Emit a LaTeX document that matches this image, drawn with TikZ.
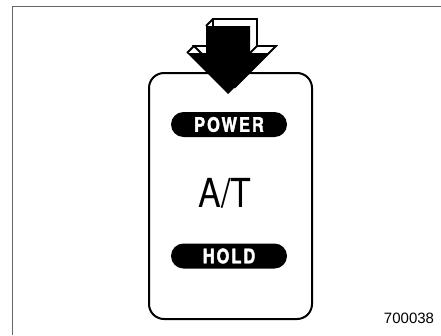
\documentclass[tikz,border=0pt]{standalone}
\usepackage{fontspec}
\setmainfont{TeX Gyre Heros}
\newfontfamily\pillfont[FakeStretch=0.82,LetterSpace=10,FakeBold=2]{TeX Gyre Heros}
\newfontfamily\atfont[FakeStretch=0.85]{TeX Gyre Heros}
\newfontfamily\numfont{Liberation Sans}
\definecolor{framegray}{HTML}{666666}
\tikzset{
  framestyle/.style={draw=framegray, line width=1.3pt},
  panel/.style={draw=black, line width=2pt, rounded corners=15pt, minimum width=163pt, minimum height=246pt, inner sep=0pt},
  pill/.style={fill=black, text=white, rounded corners=12.5pt, minimum width=116pt, minimum height=25pt, inner sep=0pt, font=\pillfont\bfseries\fontsize{20}{20}\selectfont},
  outlinearrow/.style={draw=black, fill=white, line width=1.8pt, line join=miter},
  edgeline/.style={draw=black, line width=1.8pt},
}
\begin{document}
\begin{tikzpicture}[x=1pt,y=-1pt]
\useasboundingbox (0,0) rectangle (441,335);
\draw[framestyle] (441,6.5) -- (12.5,6.5) -- (12.5,335);
\node[panel] (box) at (230.5,196) {};
\node[pill] (power) at (229,124.5) {POWER};
\node[pill] (hold) at (229,256) {HOLD};
\node[font=\atfont\fontsize{40}{40}\selectfont, inner sep=0pt] (at) at (225,193) {A/T};
\node[font=\numfont\fontsize{15}{15}\selectfont, inner sep=0pt] (num) at (409,318) {700038};
% outline (back) arrow, offset (7,-7)
\path[outlinearrow] (213,19) -- (257,19) -- (257,46) -- (276,46) -- (235,87) -- (194,46) -- (213,46) -- cycle;
% extrusion edges
\draw[edgeline] (206,26) -- (213,19);
\draw[edgeline] (187,53) -- (194,46);
\draw[edgeline] (250,53) -- (257,46);
% front black arrow
\fill[black] (206,26) -- (250,26) -- (250,53) -- (269,53) -- (228,94) -- (187,53) -- (206,53) -- cycle;
\end{tikzpicture}
\end{document}
